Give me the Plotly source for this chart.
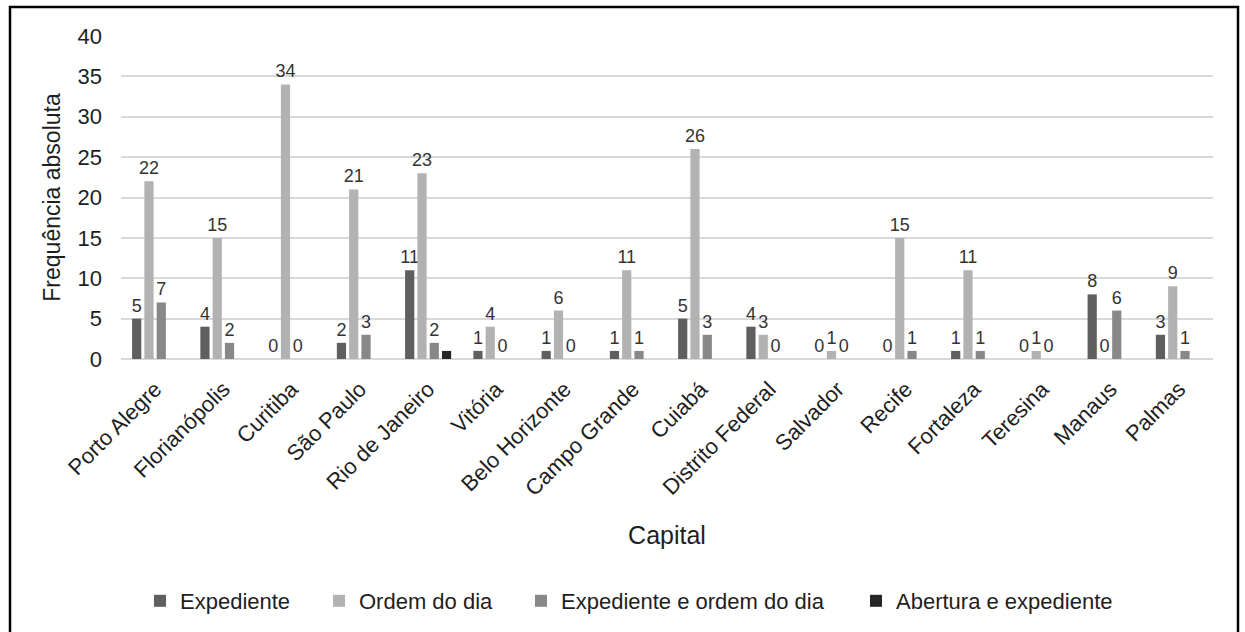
import plotly.graph_objects as go

capitais = ["Porto Alegre", "Florianópolis", "Curitiba", "São Paulo", "Rio de Janeiro",
            "Vitória", "Belo Horizonte", "Campo Grande", "Cuiabá", "Distrito Federal",
            "Salvador", "Recife", "Fortaleza", "Teresina", "Manaus", "Palmas"]

expediente = [5, 4, 0, 2, 11, 1, 1, 1, 5, 4, 0, 0, 1, 0, 8, 3]
ordem_do_dia = [22, 15, 34, 21, 23, 4, 6, 11, 26, 3, 1, 15, 11, 1, 0, 9]
expediente_e_ordem = [7, 2, 0, 3, 2, 0, 0, 1, 3, 0, 0, 1, 1, 0, 6, 1]
abertura_e_expediente = [None, None, None, None, 1, None, None, None, None, None,
                         None, None, None, None, None, None]

series = [
    ("Expediente", expediente, "#5f5f5f", True),
    ("Ordem do dia", ordem_do_dia, "#b2b2b2", True),
    ("Expediente e ordem do dia", expediente_e_ordem, "#888888", True),
    ("Abertura e expediente", abertura_e_expediente, "#262626", False),
]

FONT = "Liberation Sans, Arial, sans-serif"
TXT = "#1e1e1e"
W, H = 1245, 632

# legend anchor positions (px from the left of the page)
legend_x_px = [140, 319, 521, 856]
legend_names = ["legend", "legend2", "legend3", "legend4"]

fig = go.Figure()
for (name, vals, color, labels), lg in zip(series, legend_names):
    fig.add_trace(go.Bar(
        name=name, x=capitais, y=vals, legend=lg,
        marker=dict(color=color, line=dict(width=0)),
        text=[("" if v is None else str(v)) for v in vals] if labels else None,
        textposition="outside" if labels else "none",
        constraintext="none",
        textfont=dict(family=FONT, size=18, color="#333333"),
        cliponaxis=False,
    ))

legend_common = dict(orientation="h", xref="container", yref="container",
                     xanchor="left", y=(H - 601) / H, yanchor="middle",
                     font=dict(family=FONT, size=22, color=TXT),
                     bgcolor="rgba(0,0,0,0)", borderwidth=0)
layout_legends = {lg: dict(x=px / W, **legend_common) for lg, px in zip(legend_names, legend_x_px)}

fig.update_layout(
    width=W, height=H,
    paper_bgcolor="white", plot_bgcolor="white",
    barmode="group", bargap=0.28, bargroupgap=0.25,
    margin=dict(l=121, r=32, t=36, b=273),
    font=dict(family=FONT, color=TXT),
    showlegend=True,
    **layout_legends,
)

fig.update_xaxes(
    tickangle=-45, tickfont=dict(family=FONT, size=22, color=TXT),
    showline=False, showgrid=False, ticks="", ticklabelstandoff=12,
    title=dict(text="Capital", font=dict(family=FONT, size=25, color=TXT), standoff=26),
)
fig.update_yaxes(
    range=[0, 40], dtick=5, tick0=0,
    showgrid=True, gridcolor="#d9d9d9", gridwidth=1.5,
    zeroline=True, zerolinecolor="#d9d9d9", zerolinewidth=1.5,
    showline=False, ticks="", ticklabelstandoff=18,
    tickfont=dict(family=FONT, size=22, color=TXT),
    title=dict(text="Frequência absoluta", font=dict(family=FONT, size=23, color=TXT), standoff=10),
)

# outer frame
fig.add_shape(type="rect", xref="paper", yref="paper",
              x0=(10 - 121) / 1092, x1=(1238 - 121) / 1092,
              y0=(359 - 660) / 323, y1=(359 - 7) / 323,
              line=dict(color="black", width=2.5), fillcolor="rgba(0,0,0,0)", layer="above")

fig.write_html("out.html", config={"displayModeBar": False},
               post_script="document.body.style.margin='0px';")
